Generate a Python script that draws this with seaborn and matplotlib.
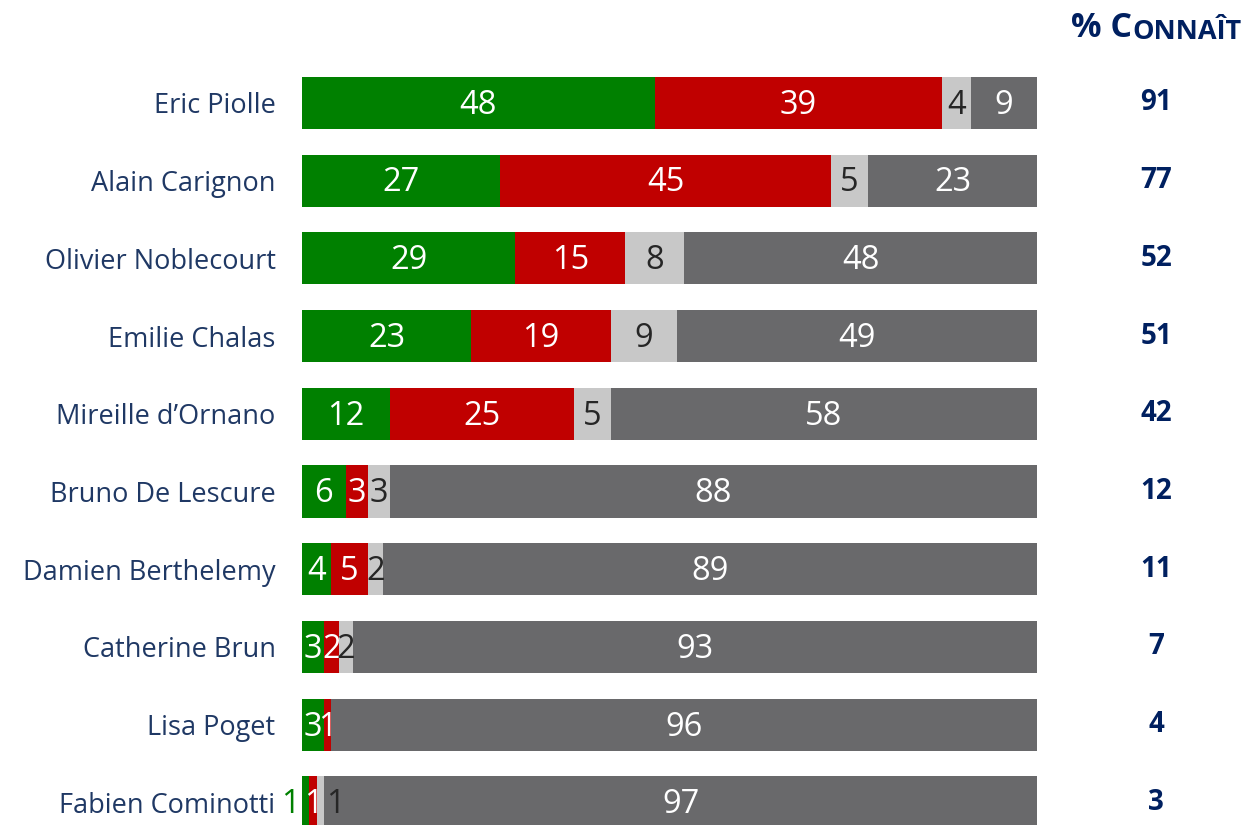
import numpy as np
import pandas as pd
import seaborn as sns
import matplotlib.pyplot as plt

# DONNEES
noms = ["Eric Piolle", "Alain Carignon", "Olivier Noblecourt", "Emilie Chalas",
        "Mireille d\u2019Ornano", "Bruno De Lescure", "Damien Berthelemy",
        "Catherine Brun", "Lisa Poget", "Fabien Cominotti"]
vert = [48, 27, 29, 23, 12, 6, 4, 3, 3, 1]
rouge = [39, 45, 15, 19, 25, 3, 5, 2, 1, 1]
gris_clair = [4, 5, 8, 9, 5, 3, 2, 2, 0, 1]
gris_fonce = [9, 23, 48, 49, 58, 88, 89, 93, 96, 97]
connait = [91, 77, 52, 51, 42, 12, 11, 7, 4, 3]

sns.set_theme(style="white")
plt.rcParams['font.family'] = ['Open Sans', 'DejaVu Sans']

df = pd.DataFrame({"nom": noms, "vert": vert, "rouge": rouge,
                   "gris_clair": gris_clair, "gris_fonce": gris_fonce})
series = ["vert", "rouge", "gris_clair", "gris_fonce"]
couleurs = {"vert": "#008000", "rouge": "#C00000",
            "gris_clair": "#C8C8C8", "gris_fonce": "#69696B"}
txt_col = {"vert": "white", "rouge": "white", "gris_clair": "#262626", "gris_fonce": "white"}

cum = df[series].cumsum(axis=1)

fig = plt.figure(figsize=(12.56, 8.25), dpi=100)
ax = fig.add_axes([0.2404, 0.0, 0.5853, 0.9224])

# BARRES EMPILEES (du total vers le premier segment)
for s in reversed(series):
    sns.barplot(x=cum[s], y=df["nom"], orient="h", color=couleurs[s],
                width=0.67, linewidth=0, saturation=1, ax=ax)

# ETIQUETTES DANS LES BARRES
for i, row in df.iterrows():
    left = 0
    for s in series:
        v = row[s]
        if v > 0:
            xc = left + v / 2
            col = txt_col[s]
            ha = "center"
            if s == "vert" and v <= 1:
                xc, col, ha = -0.3, couleurs["vert"], "right"
            elif s == "gris_clair" and v <= 1:
                xc = left + v + 0.3
                ha = "left"
            ax.text(xc, i + 0.03, str(v), ha=ha, va="center", fontsize=23.5,
                    color=col, clip_on=False)
        left += v

ax.set_xlim(0, 100)
ax.set_ylim(9.29, -0.5)
ax.set_xlabel("")
ax.set_ylabel("")
ax.set_xticks([])
sns.despine(ax=ax, left=True, bottom=True)
ax.tick_params(axis="y", length=0, pad=19, labelsize=19.5, labelcolor="#1F3864")

# COLONNE % CONNAIT
for i, c in enumerate(connait):
    ax.text(116.2, i, str(c), ha="center", va="center", fontsize=20,
            fontweight="bold", color="#002060", clip_on=False)

t1 = fig.text(0.853, 0.966, "% C", ha="left", va="center", fontsize=24.5,
              fontweight="bold", color="#002060")
fig.canvas.draw()
bb = t1.get_window_extent()
x2 = bb.x1 / fig.bbox.width
fig.text(x2, bb.y0 / fig.bbox.height, "ONNA\u00ceT", ha="left", va="bottom",
         fontsize=19.5, fontweight="bold", color="#002060")

fig.savefig("out.png", dpi=100)
